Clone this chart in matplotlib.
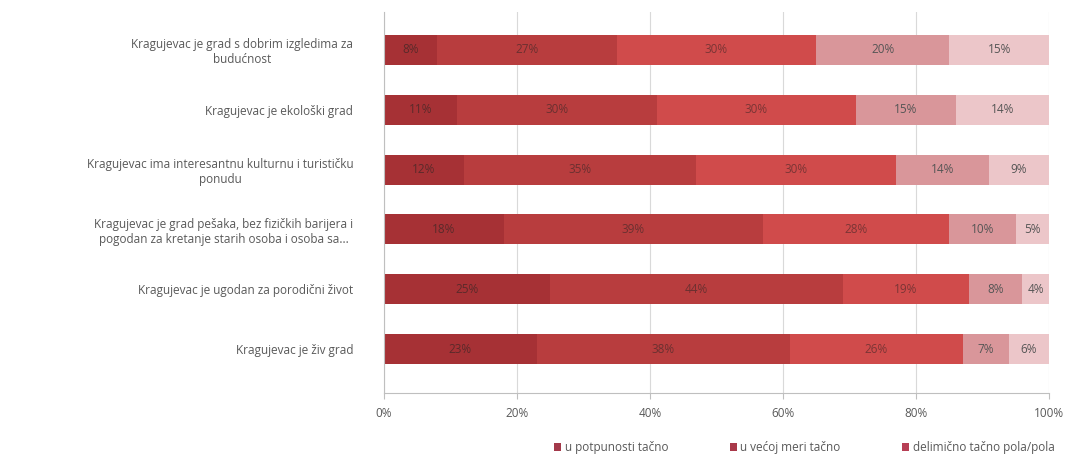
import numpy as np
import matplotlib

matplotlib.use("Agg")
import matplotlib.pyplot as plt  # noqa: E402
from matplotlib.patches import Patch  # noqa: E402

plt.rcParams["font.family"] = ["Open Sans", "DejaVu Sans"]

categories = [
    "Kragujevac je grad s dobrim izgledima za\nbudućnost",
    "Kragujevac je ekološki grad",
    "Kragujevac ima interesantnu kulturnu i turističku\nponudu",
    "Kragujevac je grad pešaka, bez fizičkih barijera i\npogodan za kretanje starih osoba i osoba sa...",
    "Kragujevac je ugodan za porodični život",
    "Kragujevac je živ grad",
]
series_names = [
    "u potpunosti tačno",
    "u većoj meri tačno",
    "delimično tačno pola/pola",
    "uglavnom netačno",
    "uopšte nije tačno",
]
values = [
    [8, 11, 12, 18, 25, 23],
    [27, 30, 35, 39, 44, 38],
    [30, 30, 30, 28, 19, 26],
    [20, 15, 14, 10, 8, 7],
    [15, 14, 9, 5, 4, 6],
]
colors = ["#a63135", "#b83d3e", "#d04b4b", "#d9969a", "#ecc6c9"]
text_colors = ["#5a2a2a", "#6a3030", "#7a3535", "#555555", "#555555"]

fig = plt.figure(figsize=(10.72, 4.66), dpi=100)
ax = fig.add_axes([0.358, 0.157, 0.6206, 0.817])

y = np.arange(len(categories))
left = np.zeros(len(categories))
for i, name in enumerate(series_names):
    vals = np.array(values[i], dtype=float)
    ax.barh(y, vals, left=left, height=0.5, color=colors[i], label=name, zorder=2)
    for yi, (l, v) in enumerate(zip(left, vals)):
        ax.text(l + v / 2, yi, f"{int(v)}%", ha="center", va="center",
                fontsize=8.5, color=text_colors[i], zorder=3)
    left += vals

ax.set_xlim(0, 100)
ax.set_ylim(len(categories) - 0.27, -0.63)
ax.set_xticks([0, 20, 40, 60, 80, 100])
ax.set_xticklabels(["0%", "20%", "40%", "60%", "80%", "100%"])
ax.set_yticks(y)
ax.set_yticklabels(categories, fontsize=8.5, color="#595959")
for lab in ax.get_yticklabels():
    lab.set_multialignment("center")
ax.tick_params(axis="x", labelsize=8.5, labelcolor="#595959", color="#bfbfbf",
               length=4, pad=6)
ax.tick_params(axis="y", length=0, pad=22)
ax.xaxis.grid(True, color="#d9d9d9", linewidth=0.8, zorder=0)
ax.set_axisbelow(True)
for side in ["top", "right"]:
    ax.spines[side].set_visible(False)
ax.spines["left"].set_color("#bfbfbf")
ax.spines["bottom"].set_color("#bfbfbf")

handles = [Patch(facecolor="#a3394a", edgecolor="none"),
           Patch(facecolor="#a9394a", edgecolor="none"),
           Patch(facecolor="#b73f55", edgecolor="none")]
fig.legend(handles, series_names[:3], loc="center left", bbox_to_anchor=(0.507, 0.04),
           ncol=3, frameon=False, fontsize=8.5, handlelength=0.6, handleheight=0.7,
           handletextpad=0.3, columnspacing=5.2, labelcolor="#595959")

fig.savefig("out.png", dpi=100)
